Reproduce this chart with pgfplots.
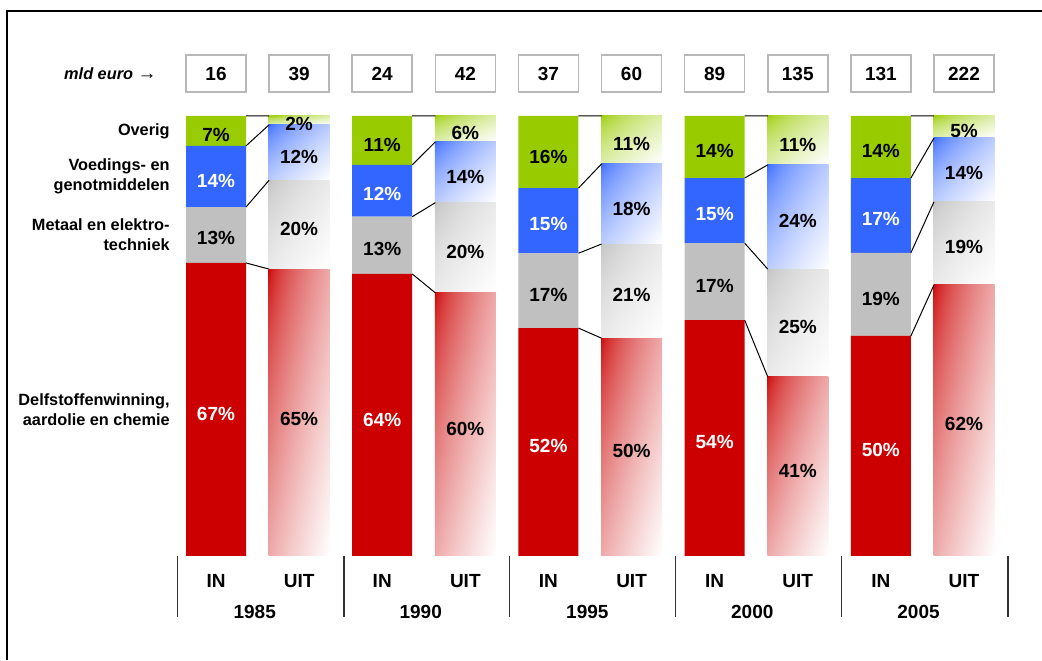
\documentclass[border=0pt]{standalone}
\usepackage{fontspec}
\setmainfont{Liberation Sans}
\usepackage{pgfplots}
\pgfplotsset{compat=1.18}
\usepackage{pgfplotstable}

\definecolor{cred}{HTML}{CC0000}
\definecolor{cgray}{HTML}{C0C0C0}
\definecolor{cblue}{HTML}{3366FF}
\definecolor{cgreen}{HTML}{99CC00}

% diagonal shadings in the bar's own box: colour at the top-left corner, white at the bottom-right
% t = ((x-25)+(75-y))/100 ; s = |t|^0.6 ; channel = c + (1-c)*s
\pgfdeclarefunctionalshading{uitred}{\pgfpointorigin}{\pgfpoint{100bp}{100bp}}{}{
  75 exch sub exch 25 sub add 0.01 mul abs 0.6 exp
  dup 0.2 mul 0.8 add exch dup
}
\pgfdeclarefunctionalshading{uitgray}{\pgfpointorigin}{\pgfpoint{100bp}{100bp}}{}{
  75 exch sub exch 25 sub add 0.01 mul abs 0.6 exp
  0.247 mul 0.753 add dup dup
}
\pgfdeclarefunctionalshading{uitblue}{\pgfpointorigin}{\pgfpoint{100bp}{100bp}}{}{
  75 exch sub exch 25 sub add 0.01 mul abs 0.6 exp
  dup 0.8 mul 0.2 add exch 0.6 mul 0.4 add 1
}
\pgfdeclarefunctionalshading{uitgreen}{\pgfpointorigin}{\pgfpoint{100bp}{100bp}}{}{
  75 exch sub exch 25 sub add 0.01 mul abs 0.6 exp
  dup 0.4 mul 0.6 add exch dup 0.2 mul 0.8 add exch
}

% IN (import) shares, bottom to top
\pgfplotstableread{
x red gray blue green
0 66.6 12.7 13.9 6.8
2 64.1 13.0 11.8 11.1
4 51.8 17.0 14.8 16.4
6 53.6 17.5 14.8 14.1
8 50.0 18.9 17.0 14.1
}\tin
% printed labels (white)
\pgfplotstableread{
x y lab
0 32.2 67
0 85.2 14
2 30.9 64
2 82.2 12
4 25.1 52
4 75.45 15
6 25.8 54
6 77.7 15
8 24.2 50
8 76.5 17
}\twhite
% printed labels (black)
\pgfplotstableread{
x y lab
0 72.2 13
0 95.75 7
2 69.7 13
2 93.4 11
4 59.4 17
4 90.75 16
6 61.4 17
6 92.1 14
8 58.5 19
8 92.1 14
1 31.2 65
1 74.25 20
1 90.75 12
1 98.1 2
3 28.9 60
3 69.2 20
3 86.2 14
3 96.2 6
5 23.9 50
5 59.4 21
5 78.9 18
5 93.6 11
7 19.4 41
7 52.0 25
7 76.2 24
7 93.4 11
9 30.0 62
9 70.3 19
9 87.0 14
9 96.6 5
}\tblack
% mld euro
\pgfplotstableread{
x y v
0 109.66 16
1 109.66 39
2 109.66 24
3 109.66 42
4 109.66 37
5 109.66 60
6 109.66 89
7 109.66 135
8 109.66 131
9 109.66 222
}\teuro

\pgfplotsset{
  base/.style={
    x=41.555pt, y=2.2pt,
    xmin=-2.599, xmax=9.939, ymin=-23.64, ymax=126.36,
    hide axis, clip=false,
    anchor=south west, at={(0pt,0pt)},
  },
  uit/.style={ybar stacked, bar width=30.5pt},
  us/.style={draw=none, shade, shading=#1},
}

\begin{document}
\begin{tikzpicture}
% IN bars
\begin{axis}[base, ybar stacked, bar width=30pt]
\addplot[fill=cred, draw=none] table[x=x,y=red]{\tin};
\addplot[fill=cgray, draw=none] table[x=x,y=gray]{\tin};
\addplot[fill=cblue, draw=none] table[x=x,y=blue]{\tin};
\addplot[fill=cgreen, draw=none] table[x=x,y=green]{\tin};
\end{axis}
% UIT bars, one axis per year so that each segment gets its own shading
\begin{axis}[base, uit]
\addplot[us=uitred] coordinates {(1,65.2)};
\addplot[us=uitgray] coordinates {(1,20.2)};
\addplot[us=uitblue] coordinates {(1,12.6)};
\addplot[us=uitgreen] coordinates {(1,2.0)};
\end{axis}
\begin{axis}[base, uit]
\addplot[us=uitred] coordinates {(3,59.8)};
\addplot[us=uitgray] coordinates {(3,20.5)};
\addplot[us=uitblue] coordinates {(3,13.8)};
\addplot[us=uitgreen] coordinates {(3,5.9)};
\end{axis}
\begin{axis}[base, uit]
\addplot[us=uitred] coordinates {(5,49.5)};
\addplot[us=uitgray] coordinates {(5,21.4)};
\addplot[us=uitblue] coordinates {(5,18.2)};
\addplot[us=uitgreen] coordinates {(5,10.9)};
\end{axis}
\begin{axis}[base, uit]
\addplot[us=uitred] coordinates {(7,40.7)};
\addplot[us=uitgray] coordinates {(7,24.5)};
\addplot[us=uitblue] coordinates {(7,23.7)};
\addplot[us=uitgreen] coordinates {(7,11.1)};
\end{axis}
\begin{axis}[base, uit]
\addplot[us=uitred] coordinates {(9,61.6)};
\addplot[us=uitgray] coordinates {(9,18.9)};
\addplot[us=uitblue] coordinates {(9,14.5)};
\addplot[us=uitgreen] coordinates {(9,5.0)};
\end{axis}
% connectors, labels, texts
\begin{axis}[base, unbounded coords=jump]
\addplot[black, line width=0.5pt, mark=none] coordinates {
(0.361,66.6) (0.639,65.2) (0.5,nan)
(0.361,79.3) (0.639,85.4) (0.5,nan)
(0.361,93.2) (0.639,98.0) (0.5,nan)
(0.361,100) (0.639,100) (0.5,nan)
(2.361,64.1) (2.639,59.8) (2.5,nan)
(2.361,77.1) (2.639,80.3) (2.5,nan)
(2.361,88.9) (2.639,94.1) (2.5,nan)
(2.361,100) (2.639,100) (2.5,nan)
(4.361,51.8) (4.639,49.5) (4.5,nan)
(4.361,68.8) (4.639,70.9) (4.5,nan)
(4.361,83.6) (4.639,89.1) (4.5,nan)
(4.361,100) (4.639,100) (4.5,nan)
(6.361,53.6) (6.639,40.7) (6.5,nan)
(6.361,71.1) (6.639,65.2) (6.5,nan)
(6.361,85.9) (6.639,88.9) (6.5,nan)
(6.361,100) (6.639,100) (6.5,nan)
(8.361,50.0) (8.639,61.6) (8.5,nan)
(8.361,68.9) (8.639,80.5) (8.5,nan)
(8.361,85.9) (8.639,95.0) (8.5,nan)
(8.361,100) (8.639,100)
};
\addplot[only marks, mark=none, point meta=explicit symbolic,
  nodes near coords={\pgfplotspointmeta\%},
  every node near coord/.append style={anchor=center, text=white, font=\fontsize{9.5}{11}\selectfont\bfseries}]
  table[x=x,y=y,meta=lab]{\twhite};
\addplot[only marks, mark=none, point meta=explicit symbolic,
  nodes near coords={\pgfplotspointmeta\%},
  every node near coord/.append style={anchor=center, text=black, font=\fontsize{9.5}{11}\selectfont\bfseries}]
  table[x=x,y=y,meta=lab]{\tblack};
\addplot[only marks, mark=none, point meta=explicit symbolic,
  nodes near coords={\pgfplotspointmeta},
  every node near coord/.append style={anchor=center, text=black, draw=black!28, line width=0.75pt,
     minimum width=30pt, minimum height=18.5pt, inner sep=0pt, font=\fontsize{9.5}{11}\selectfont\bfseries}]
  table[x=x,y=y,meta=v]{\teuro};

% category labels
\begin{scope}[every node/.style={font=\fontsize{8.15}{10}\selectfont\bfseries, align=right, anchor=east, inner sep=0pt}]
\node at (axis cs:-0.553,96.6) {Overig};
\node at (axis cs:-0.553,86.2) {Voedings- en\\genotmiddelen};
\node at (axis cs:-0.553,72.95) {Metaal en elektro-\\techniek};
\node at (axis cs:-0.553,33.25) {Delfstoffenwinning,\\aardolie en chemie};
\node at (axis cs:-0.71,109.66) {\itshape mld euro {\upshape\fontsize{9.5}{10}\selectfont →}};
\end{scope}

% IN / UIT and years
\begin{scope}[every node/.style={font=\fontsize{9.5}{11}\selectfont\bfseries, inner sep=0pt, anchor=center}]
\node at (axis cs:0,-5.68) {IN};
\node at (axis cs:1,-5.68) {UIT};
\node at (axis cs:2,-5.68) {IN};
\node at (axis cs:3,-5.68) {UIT};
\node at (axis cs:4,-5.68) {IN};
\node at (axis cs:5,-5.68) {UIT};
\node at (axis cs:6,-5.68) {IN};
\node at (axis cs:7,-5.68) {UIT};
\node at (axis cs:8,-5.68) {IN};
\node at (axis cs:9,-5.68) {UIT};
\node at (axis cs:0.466,-12.7) {1985};
\node at (axis cs:2.463,-12.7) {1990};
\node at (axis cs:4.468,-12.7) {1995};
\node at (axis cs:6.453,-12.7) {2000};
\node at (axis cs:8.453,-12.7) {2005};
\end{scope}

% group separators
\begin{scope}[black!80, line width=0.65pt]
\draw (axis cs:-0.46,0) -- (axis cs:-0.46,-13.86);
\draw (axis cs:1.54,0) -- (axis cs:1.54,-13.86);
\draw (axis cs:3.535,0) -- (axis cs:3.535,-13.86);
\draw (axis cs:5.525,0) -- (axis cs:5.525,-13.86);
\draw (axis cs:7.53,0) -- (axis cs:7.53,-13.86);
\draw (axis cs:9.53,0) -- (axis cs:9.53,-13.86);
\end{scope}
\end{axis}
% frame (top and left sides)
\draw[line width=0.85pt] (3.6pt,0pt) -- (3.6pt,324.5pt) -- (521pt,324.5pt);
\pgfresetboundingbox
\path[use as bounding box] (0pt,0pt) rectangle (521pt,330pt);
\end{tikzpicture}
\end{document}
